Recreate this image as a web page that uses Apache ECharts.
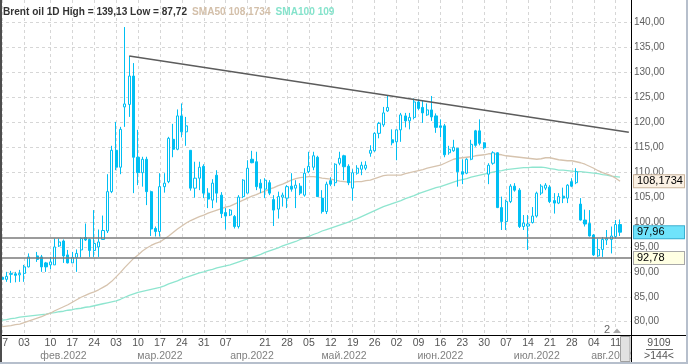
<!DOCTYPE html>
<html><head><meta charset="utf-8">
<script src="https://cdn.jsdelivr.net/npm/echarts@6/dist/echarts.min.js"></script>
<style>html,body{margin:0;padding:0;background:#fff}#c{width:688px;height:364px}</style>
</head><body><div id="c"></div><script>
// ---------- DATA ----------
const dates = ['2022-01-27','2022-01-28','2022-01-31','2022-02-01','2022-02-02','2022-02-03','2022-02-04','2022-02-05',
'2022-02-07','2022-02-08','2022-02-09','2022-02-10','2022-02-11','2022-02-14','2022-02-15','2022-02-16','2022-02-17','2022-02-18',
'2022-02-21','2022-02-22','2022-02-23','2022-02-24','2022-02-25','2022-02-28','2022-03-01','2022-03-02','2022-03-03','2022-03-04',
'2022-03-07','2022-03-08','2022-03-09','2022-03-10','2022-03-11','2022-03-14','2022-03-15','2022-03-16','2022-03-17','2022-03-18',
'2022-03-21','2022-03-22','2022-03-23','2022-03-24','2022-03-25','2022-03-28','2022-03-29','2022-03-30','2022-03-31','2022-04-01',
'2022-04-04','2022-04-05','2022-04-06','2022-04-07','2022-04-08','2022-04-11','2022-04-12','2022-04-13','2022-04-14',
'2022-04-18','2022-04-19','2022-04-20','2022-04-21','2022-04-22','2022-04-25','2022-04-26','2022-04-27','2022-04-28','2022-04-29',
'2022-05-02','2022-05-03','2022-05-04','2022-05-05','2022-05-06','2022-05-09','2022-05-10','2022-05-11','2022-05-12','2022-05-13',
'2022-05-16','2022-05-17','2022-05-18','2022-05-19','2022-05-20','2022-05-23','2022-05-24','2022-05-25','2022-05-26','2022-05-27',
'2022-05-30','2022-05-31','2022-06-01','2022-06-02','2022-06-03','2022-06-06','2022-06-07','2022-06-08','2022-06-09','2022-06-10',
'2022-06-13','2022-06-14','2022-06-15','2022-06-16','2022-06-17','2022-06-20','2022-06-21','2022-06-22','2022-06-23','2022-06-24',
'2022-06-27','2022-06-28','2022-06-29','2022-06-30','2022-07-01','2022-07-04','2022-07-05','2022-07-06','2022-07-07','2022-07-08',
'2022-07-11','2022-07-12','2022-07-13','2022-07-14','2022-07-15','2022-07-18','2022-07-19','2022-07-20','2022-07-21','2022-07-22',
'2022-07-25','2022-07-26','2022-07-27','2022-07-28','2022-07-29','2022-08-01','2022-08-02','2022-08-03','2022-08-04','2022-08-05',
'2022-08-08','2022-08-09','2022-08-10','2022-08-11','2022-08-12','2022-08-15','2022-08-16'];

// [open, close, low, high]
const candles = [
[88.9,88.5,87.72,89.6],[88.5,89.1,88.0,90.0],[89.5,89.7,87.8,90.2],[89.6,89.3,87.9,90.0],[89.4,89.7,88.0,90.4],
[89.7,91.0,88.0,91.4],[91.0,93.0,90.9,93.7],'-',
[93.2,92.5,92.0,94.0],[93.0,91.0,90.0,93.4],[91.8,91.0,90.0,92.0],[91.4,92.0,90.5,93.0],[91.4,95.0,91.4,96.7],
[95.2,96.0,95.0,96.7],[96.2,93.2,91.8,96.5],[93.4,91.8,91.7,94.4],[91.8,92.9,91.8,94.0],[92.9,93.7,90.0,94.5],
[94.4,96.7,92.9,96.9],[96.9,96.4,96.2,99.7],[96.5,94.3,93.0,96.7],[94.3,95.7,93.0,102.4],[95.0,96.0,93.0,98.5],
[96.5,98.3,96.5,101.3],[98.2,106.1,97.8,109.6],[106.1,114.4,105.8,115.3],[114.4,111.0,110.4,120.1],[111.0,118.6,109.6,119.1],
[123.1,123.7,119.1,139.13],[123.6,129.3,121.1,133.3],[129.3,113.0,105.8,131.9],[113.0,109.9,107.4,118.5],[109.9,112.6,107.1,113.1],
[112.6,106.1,103.4,113.1],[106.1,98.6,97.2,106.3],[98.7,98.1,97.1,99.1],[98.1,107.1,97.1,109.8],[107.1,107.8,105.9,109.8],
[108.1,116.8,107.8,117.1],[116.6,114.6,113.0,119.7],[114.6,121.3,114.4,122.6],[121.3,118.1,117.0,123.8],[118.1,119.3,115.3,121.1],
[114.4,106.8,106.3,114.4],[106.8,108.8,104.9,112.1],[108.8,111.0,106.4,112.1],[111.2,105.8,104.8,111.6],[105.8,104.6,102.8,106.8],
[104.4,107.8,102.8,108.6],[109.4,105.8,103.9,110.4],[105.4,101.7,100.8,106.0],[101.9,101.2,98.5,102.8],[101.4,102.4,101.2,102.6],
[101.1,99.1,98.7,101.4],[99.1,105.0,98.7,105.4],[105.1,108.4,104.8,108.6],[105.8,110.8,105.8,112.4],
[112.6,111.9,111.8,114.3],[112.1,107.1,106.4,114.1],[107.8,106.8,105.8,108.6],[106.6,108.4,104.8,108.8],[107.9,105.8,105.4,108.4],
[104.5,102.4,99.2,105.4],[102.6,105.1,100.7,106.1],[105.0,105.4,103.1,105.9],[104.8,107.1,102.8,107.4],[107.2,106.6,106.1,109.8],
[106.8,107.4,102.8,108.4],[107.2,105.8,105.4,107.8],[105.4,109.8,105.1,110.8],[110.1,111.2,109.8,114.1],[111.0,113.3,110.4,114.1],
[113.0,105.1,105.1,113.3],[104.8,102.1,101.7,106.4],[102.1,107.6,101.6,108.1],[108.3,107.6,107.2,109.0],[107.9,111.6,107.2,111.8],
[111.8,112.8,111.4,114.1],[113.3,111.1,108.4,113.5],[111.2,107.9,107.4,111.6],[106.8,109.9,104.3,110.6],[109.8,110.8,109.5,111.4],
[110.6,111.4,109.4,112.1],[110.8,111.4,110.4,112.2],[113.8,114.4,113.1,115.4],[114.3,117.8,114.1,118.0],[117.8,119.8,116.8,120.1],
[119.5,121.9,119.1,123.1],[122.3,123.0,122.1,125.3],[116.5,115.9,115.4,118.6],[116.1,118.5,112.4,118.6],[118.5,121.5,116.1,121.9],
[121.3,120.3,119.0,121.9],[120.3,121.0,118.6,121.9],[121.0,124.1,120.6,124.8],[124.1,122.8,122.5,124.6],[123.0,121.9,119.9,124.3],
[121.5,122.5,121.3,123.8],[122.5,121.1,120.3,125.3],[121.3,119.0,117.9,121.8],[119.3,119.0,117.0,120.6],[119.3,113.5,113.0,119.7],
[113.9,114.6,113.5,115.3],[114.3,115.0,114.1,116.5],[114.8,110.1,107.1,114.8],[110.1,109.6,107.6,112.6],[109.8,112.6,109.6,112.8],
[112.6,115.6,112.4,116.5],[118.3,115.4,115.1,118.5],[118.3,115.8,115.4,120.6],[115.9,114.9,114.6,116.0],[109.6,111.4,107.6,111.8],
[111.8,113.9,111.5,114.2],[113.9,102.9,102.8,114.0],[102.9,100.1,98.4,105.1],[100.1,104.1,98.4,104.5],[104.1,107.2,103.8,107.6],
[107.2,106.4,106.1,107.8],[106.4,99.1,98.8,106.8],[99.1,99.8,98.4,101.4],[99.2,99.6,94.4,101.4],[99.9,101.2,99.7,103.0],
[101.2,105.8,100.9,106.1],[105.8,107.2,105.4,107.6],[106.8,107.4,106.4,107.8],[107.0,104.1,103.8,107.4],[104.3,103.8,101.7,105.8],
[103.8,105.1,103.6,105.8],[105.2,104.8,103.8,106.9],[104.8,107.4,103.8,107.6],[108.1,107.2,107.0,108.8],[107.9,110.1,107.6,110.8],
[103.6,100.4,100.3,104.8],[100.4,99.6,99.1,102.5],[99.7,97.2,97.1,102.4],[97.4,93.4,93.2,97.6],[93.2,94.5,93.0,96.7],
[94.5,96.5,93.0,97.0],[96.4,96.7,95.4,98.4],[96.5,97.2,93.7,99.1],[97.1,99.5,96.7,100.4],[99.5,97.96,97.2,100.5],
'-','-'];

const sma50 = [79.0,79.1,79.2,79.4,79.5,79.8,80.1,80.4,80.7,81.0,81.4,81.7,82.2,82.6,83.0,83.4,83.9,84.4,84.9,85.3,
85.7,86.0,86.4,86.9,87.4,88.1,89.0,89.9,90.9,91.8,92.7,93.4,94.2,94.8,95.3,95.7,96.0,96.6,97.2,97.9,
98.6,99.2,99.8,100.3,100.7,101.1,101.4,101.8,102.1,102.4,102.7,103.0,103.2,103.6,104.0,104.4,104.8,105.2,105.5,105.9,
106.2,106.6,106.9,107.3,107.6,108.0,108.4,108.7,108.9,109.0,109.1,109.1,109.0,108.8,108.7,108.6,108.4,108.2,108.1,108.0,
108.0,108.1,108.1,108.3,108.4,108.7,109.0,109.3,109.4,109.4,109.4,109.4,109.7,109.9,110.1,110.3,110.5,110.8,111.0,111.2,
111.4,111.8,112.2,112.6,112.8,112.9,113.0,113.1,113.3,113.4,113.5,113.7,113.7,113.6,113.5,113.3,113.2,113.1,113.0,112.9,
112.8,112.7,112.6,112.7,112.9,112.9,112.7,112.5,112.4,112.3,112.3,112.1,111.9,111.6,111.2,110.8,110.3,109.9,109.6,109.3,
108.8,108.1734,'-','-'];

const sma100 = [80.3,80.4,80.6,80.7,80.9,81.0,81.1,81.2,81.3,81.4,81.5,81.7,81.8,82.0,82.1,82.3,82.4,82.6,82.7,82.9,
83.0,83.2,83.4,83.6,83.8,84.0,84.2,84.5,84.9,85.3,85.6,85.9,86.1,86.3,86.5,86.7,86.9,87.2,87.6,87.9,
88.2,88.6,88.9,89.2,89.5,89.8,90.0,90.3,90.5,90.8,91.0,91.2,91.4,91.7,92.0,92.3,92.6,92.9,93.2,93.5,
93.9,94.2,94.5,94.8,95.2,95.5,95.8,96.1,96.5,96.8,97.1,97.5,97.8,98.2,98.5,98.8,99.1,99.4,99.7,100.0,
100.4,100.7,101.1,101.5,101.9,102.3,102.7,103.1,103.4,103.7,104.0,104.3,104.7,105.0,105.3,105.7,106.0,106.3,106.6,106.9,
107.1,107.4,107.7,108.0,108.3,108.5,108.7,109.0,109.2,109.4,109.6,109.8,110.0,110.2,110.3,110.5,110.6,110.7,110.8,110.9,
110.9,111.0,111.0,111.0,110.9,110.7,110.6,110.4,110.4,110.3,110.2,110.1,110.1,110.0,109.9,109.8,109.7,109.5,109.4,109.2,
109.1,109.0,'-','-'];

const dayTicks = ['2022-01-27','2022-02-03','2022-02-10','2022-02-17','2022-02-24','2022-03-03','2022-03-10','2022-03-17',
'2022-03-24','2022-03-31','2022-04-07','2022-04-21','2022-04-28','2022-05-05','2022-05-12','2022-05-19','2022-05-26',
'2022-06-02','2022-06-09','2022-06-16','2022-06-23','2022-06-30','2022-07-07','2022-07-14','2022-07-21','2022-07-28',
'2022-08-04','2022-08-11'];
const gridDays = dayTicks.concat(['2022-04-14']);
const monthDates = ['2022-02-15','2022-03-17','2022-04-18','2022-05-17','2022-06-16','2022-07-18','2022-08-10'];
const monthNames = ['фев.2022','мар.2022','апр.2022','май.2022','июн.2022','июл.2022','авг.2022'];
const yTicks = [80,85,90,95,100,105,110,115,120,125,130,135,140];
const trendStart = ['2022-03-08', 133.3];
const trendEnd = ['2022-08-16', 118.0];
const levelLines = [96.93, 92.78];
const lastPrice = 97.96;
const barsTotal = '9109';

// ---------- CHART ----------
const FONT = '"Liberation Sans", Arial, sans-serif';
const comma = (v, d) => v.toFixed(d).replace('.', ',');
const valid = candles.filter(c => c !== '-');
const hi = Math.max(...valid.map(c => c[3]));
const lo = Math.min(...valid.map(c => c[2]));
const s50 = sma50.filter(v => v !== '-'); const s100 = sma100.filter(v => v !== '-');
const sma50Last = s50[s50.length - 1], sma100Last = s100[s100.length - 1];
const CY = '#00bff3';
const NOLINE = {color: 'rgba(0,0,0,0)', width: 0};
const tag = (bg, border, text) => ({
  show: true, position: 'end', distance: 3, fontSize: 11, fontFamily: FONT, color: '#000',
  backgroundColor: bg, borderColor: border, borderWidth: 1, padding: [1, 3, 0, 3], width: 44, align: 'left',
  formatter: text
});

const chart = echarts.init(document.getElementById('c'), null, {renderer: 'canvas'});
chart.setOption({
  animation: false,
  backgroundColor: '#fff',
  title: {
    left: 3, top: 3, padding: 0,
    text: `{a|Brent oil 1D High = ${comma(hi,2)} Low = ${comma(lo,2)}} {b|SMA50 ${comma(sma50Last,4)}} {c|SMA100 ${Math.round(sma100Last)}}`,
    textStyle: { rich: {
      a: {fontSize: 10.1, fontFamily: FONT, color: '#333'},
      b: {fontSize: 10.1, fontFamily: FONT, color: '#d3bfa9'},
      c: {fontSize: 10.1, fontFamily: FONT, color: '#86e3cc'}
    }}
  },
  grid: {left: 0, top: 0, width: 631, height: 335, containLabel: false, outerBoundsMode: 'none'},
  xAxis: [{
    type: 'category', data: dates, boundaryGap: true,
    axisLine: {show: false}, axisTick: {show: false},
    axisLabel: {interval: 0, margin: 3, fontSize: 10.5, fontFamily: FONT, color: '#555',
      formatter: v => dayTicks.includes(v) ? v.slice(8) : ''},
    splitLine: {show: true, alignWithLabel: true, interval: (i, v) => gridDays.includes(v),
      lineStyle: {color: '#d6d6d6', type: [3, 3], width: 1}}
  }, {
    type: 'category', data: dates, boundaryGap: true, position: 'bottom', gridIndex: 0,
    axisLine: {show: false}, axisTick: {show: false}, splitLine: {show: false},
    axisLabel: {interval: 0, margin: 16, fontSize: 10.5, fontFamily: FONT, color: '#808080',
      formatter: v => { const k = monthDates.indexOf(v); return k >= 0 ? monthNames[k] : ''; }}
  }],
  yAxis: {
    type: 'value', position: 'right', min: 77.33, max: 144.56, scale: true,
    axisLine: {show: false}, axisTick: {show: false, customValues: yTicks},
    axisLabel: {customValues: yTicks, margin: 3, fontSize: 10, fontFamily: FONT, color: '#606060',
      formatter: v => comma(v, 2)},
    splitLine: {show: true, lineStyle: {color: '#d6d6d6', type: [3, 3], width: 1}}
  },
  series: [{
    type: 'line', name: 'SMA100', data: sma100, symbol: 'none', z: 2,
    lineStyle: {color: '#8ee5cf', width: 1.3}
  }, {
    type: 'line', name: 'SMA50', data: sma50, symbol: 'none', z: 2,
    lineStyle: {color: '#d6c3ae', width: 1.3},
    markLine: {silent: true, symbol: ['none', 'none'], animation: false,
      data: [{yAxis: sma50Last, lineStyle: NOLINE, label: tag('#fbf1e4', '#c9b49c', comma(sma50Last, 4))}]}
  }, {
    type: 'candlestick', name: 'Brent', data: candles, barWidth: 2.6, z: 3,
    itemStyle: {color: '#ffffff', color0: CY, borderColor: CY, borderColor0: CY, borderWidth: 1},
    markLine: {silent: true, symbol: ['none', 'none'], animation: false, z: 5,
      label: {show: false},
      data: [
        [{coord: trendStart, lineStyle: {color: '#5c5c5c', width: 1.5, type: 'solid'}}, {coord: trendEnd}],
        {yAxis: levelLines[0], lineStyle: {color: '#7a7a7a', width: 1.5, type: 'solid'}},
        {yAxis: levelLines[1], lineStyle: {color: '#7a7a7a', width: 1.5, type: 'solid'},
          label: tag('#ffffe3', '#a8a8a8', comma(levelLines[1], 2))},
        {yAxis: lastPrice, lineStyle: NOLINE, label: tag('#6fe3fb', '#3aaed0', comma(lastPrice, 2))}
      ]}
  }],
  graphic: [
    {type: 'line', z: 50, shape: {x1: 0, y1: 335.5, x2: 688, y2: 335.5}, style: {stroke: '#000', lineWidth: 1}},
    {type: 'line', z: 50, shape: {x1: 631.5, y1: 0, x2: 631.5, y2: 364}, style: {stroke: '#000', lineWidth: 1}},
    {type: 'rect', z: 60, shape: {x: 0, y: 0, width: 2, height: 364}, style: {fill: '#4d4d4d'}},
    {type: 'rect', z: 60, shape: {x: 686, y: 0, width: 2, height: 364}, style: {fill: '#b6bfcc'}},
    {type: 'rect', z: 60, shape: {x: 0, y: 362, width: 688, height: 2}, style: {fill: '#b6bfcc'}},
    {type: 'text', z: 60, x: 659, y: 343, style: {text: barsTotal, align: 'center', verticalAlign: 'middle', font: '10.5px ' + FONT, fill: '#555'}},
    {type: 'line', z: 60, shape: {x1: 646, y1: 349.5, x2: 673, y2: 349.5}, style: {stroke: '#666', lineWidth: 1}},
    {type: 'text', z: 60, x: 659, y: 356, style: {text: '>' + dates.length + '<', align: 'center', verticalAlign: 'middle', font: '10.5px ' + FONT, fill: '#555'}},
    {type: 'text', z: 60, x: 607, y: 330, style: {text: '2', align: 'center', verticalAlign: 'middle', font: '11px ' + FONT, fill: '#666'}},
    {type: 'polygon', z: 60, shape: {points: [[613, 333], [621, 333], [617, 328.5]]}, style: {fill: '#a8a8a8'}},
    {type: 'rect', z: 60, shape: {x: 620.5, y: 336.5, width: 9.5, height: 25}, style: {fill: '#e2e2e2', stroke: '#a0a0a0', lineWidth: 1}}
  ]
});
</script></body></html>
